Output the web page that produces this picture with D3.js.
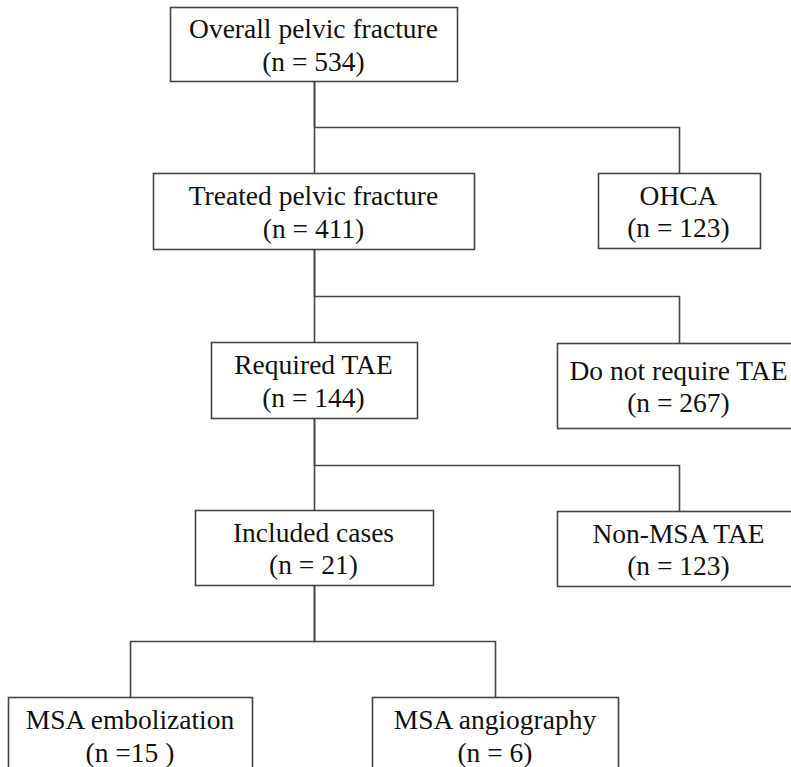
<!DOCTYPE html>
<html>
<head>
<meta charset="utf-8">
<script src="https://cdn.jsdelivr.net/npm/d3@7"></script>
<style>
  body { margin: 0; background: #fff; }
  svg { display: block; }
</style>
</head>
<body>
<script>
// flow chart data
var labels = ["Overall pelvic fracture", "Treated pelvic fracture", "OHCA",
              "Required TAE", "Do not require TAE", "Included cases",
              "Non-MSA TAE", "MSA embolization", "MSA angiography"];
var counts = ["(n = 534)", "(n = 411)", "(n = 123)", "(n = 144)", "(n = 267)",
              "(n = 21)", "(n = 123)", "(n =15 )", "(n = 6)"];
var parents = [null, 0, 0, 1, 1, 3, 3, 5, 5];
var levels  = [0, 1, 1, 2, 2, 3, 3, 4, 4];
var columns = ["main", "main", "side", "main", "side", "main", "side", "left", "mid"];

var width = 791;
var height = 767;

// layout scales
var yTop = d3.scaleOrdinal()
    .domain([0, 1, 2, 3, 4])
    .range([7, 173, 342, 510, 697]);

var xCol = d3.scaleOrdinal()
    .domain(["main", "side", "left", "mid"])
    .range([313.5, 678.5, 130, 495]);

// box sizes (layout only)
var boxW = [287, 321, 162, 206, 244, 238, 244, 244, 246];
var boxH = [74, 76, 75, 76, 85, 75, 75, 76, 76];
var topShift = [0, 0, 0, 0, 1, 0, 1, 0, 0];

var nodes = labels.map(function(l, i) {
    var top = yTop(levels[i]) + topShift[i];
    return {
        label: l,
        count: counts[i],
        parent: parents[i],
        cx: xCol(columns[i]),
        top: top,
        w: boxW[i],
        h: boxH[i]
    };
});

var svg = d3.select("body")
    .append("svg")
    .attr("width", width)
    .attr("height", height);

// connectors: parent bottom -> elbow -> child top
var links = nodes.filter(function(d) { return d.parent !== null; });

svg.selectAll("path.link")
    .data(links)
    .enter()
    .append("path")
    .attr("class", "link")
    .attr("d", function(d) {
        var p = nodes[d.parent];
        var x0 = Math.round(p.cx) + 0.5;
        var x1 = Math.round(d.cx) + 0.5;
        var y0 = p.top + p.h;
        var yMid = Math.round((y0 + d.top) / 2) + 0.5;
        return "M" + x0 + "," + y0 + "V" + yMid + "H" + x1 + "V" + d.top;
    })
    .style("fill", "none")
    .style("stroke", "#444")
    .style("stroke-width", 1.6);

// boxes
var g = svg.selectAll("g.node")
    .data(nodes)
    .enter()
    .append("g")
    .attr("class", "node");

g.append("rect")
    .attr("x", function(d) { return Math.round(d.cx - d.w / 2) + 0.5; })
    .attr("y", function(d) { return d.top + 0.5; })
    .attr("width", function(d) { return d.w; })
    .attr("height", function(d) { return d.h; })
    .style("fill", "#fff")
    .style("stroke", "#444")
    .style("stroke-width", 1.6);

g.append("text")
    .attr("x", function(d) { return d.cx; })
    .attr("y", function(d) { return d.top + d.h / 2 - 6; })
    .attr("text-anchor", "middle")
    .style("font-family", "'Liberation Serif', 'Times New Roman', serif")
    .style("font-size", "27.5px")
    .style("fill", "#111")
    .text(function(d) { return d.label; });

g.append("text")
    .attr("x", function(d) { return d.cx; })
    .attr("y", function(d) { return d.top + d.h / 2 + 26.5; })
    .attr("text-anchor", "middle")
    .style("font-family", "'Liberation Serif', 'Times New Roman', serif")
    .style("font-size", "27.5px")
    .style("fill", "#111")
    .text(function(d) { return d.count; });
</script>
</body>
</html>
